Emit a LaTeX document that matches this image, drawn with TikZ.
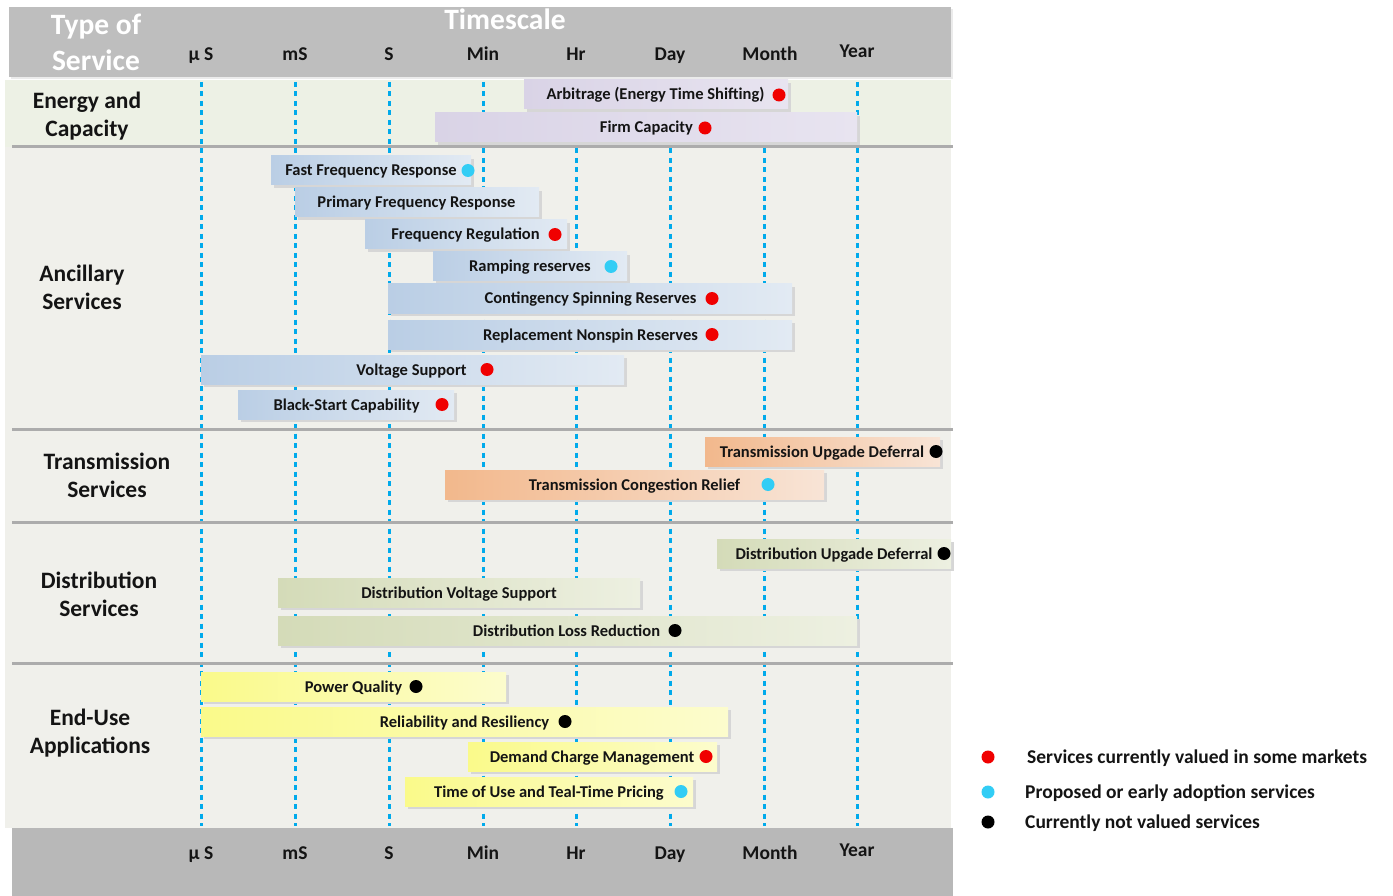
\documentclass[tikz,border=0pt]{standalone}
\usepackage{fontspec}
\setmainfont{Carlito}
\definecolor{hdr}{RGB}{190,190,190}
\definecolor{ftr}{RGB}{184,184,184}
\definecolor{bodybg}{RGB}{240,240,235}
\definecolor{energybg}{RGB}{237,241,229}
\definecolor{sepline}{RGB}{172,172,172}
\definecolor{tick}{RGB}{0,170,235}
\definecolor{txt}{RGB}{20,20,20}
\definecolor{purpleL}{RGB}{217,211,230}
\definecolor{purpleR}{RGB}{232,228,240}
\definecolor{blueL}{RGB}{186,206,229}
\definecolor{blueR}{RGB}{226,234,243}
\definecolor{orangeL}{RGB}{242,184,140}
\definecolor{orangeR}{RGB}{248,228,214}
\definecolor{greenL}{RGB}{212,219,184}
\definecolor{greenR}{RGB}{237,240,225}
\definecolor{yellowL}{RGB}{250,250,138}
\definecolor{yellowR}{RGB}{252,252,205}
\definecolor{dotred}{RGB}{240,0,0}
\definecolor{dotcyan}{RGB}{50,205,245}
\definecolor{dotblack}{RGB}{0,0,0}

% one service bar: name, x1, y1, x2, colour prefix, text x, text
\newcommand\svcbar[7]{%
  \fill[black!16] (#2+3,#3+3) rectangle (#4+3,#3+32);
  \shade[left color=#5L, right color=#5R] (#2,#3) rectangle (#4,#3+29);
  \node[bartext] (#1) at (#6,#3+20) {#7};
}

\begin{document}
\begin{tikzpicture}[x=1pt,y=-1pt,
  bartext/.style={font=\bfseries\fontsize{16.5}{19}\selectfont, text=txt, inner sep=0, anchor=base},
  ticklbl/.style={font=\bfseries\fontsize{19.5}{22}\selectfont, text=txt, inner sep=0, anchor=base},
  rowlbl/.style={font=\bfseries\fontsize{23.5}{28}\selectfont, text=txt, align=center, inner sep=0},
  hdrlbl/.style={font=\bfseries\fontsize{29.5}{36}\selectfont, text=white, align=center, inner sep=0},
  legtext/.style={font=\bfseries\fontsize{19.5}{22}\selectfont, text=txt, anchor=base west, inner sep=0},
  svcdot/.style={circle, fill=#1, minimum size=13, inner sep=0},
  timeline/.style={tick, line width=3, dash pattern=on 5 off 4.5}]

\useasboundingbox (0,0) rectangle (1393,896);
\fill[white] (0,0) rectangle (1393,896);

% chart body
\fill[bodybg] (5,80) rectangle (951,828);
\fill[energybg] (5,80) rectangle (951,147);

% header and footer bands
\fill[black!8] (11,9) rectangle (953,79);
\fill[hdr] (9,7) rectangle (951,77);
\fill[ftr] (12,828) rectangle (953,896);

\node[hdrlbl] (typeofsvc) at (96,42) {Type of\\Service};
\node[hdrlbl] (timescale) at (505,19) {Timescale};

% time scale columns
\foreach \x/\lbl/\nm/\dy in {201/{µ S}/us/0, 295/mS/ms/0, 389/S/s/0, 483/Min/min/0,
                            576/Hr/hr/0, 670/Day/day/0, 770/Month/month/0, 857/Year/year/-3} {
  \node[ticklbl] (top-\nm) at (\x,61+\dy) {\lbl};
  \node[ticklbl] (bot-\nm) at (\x,859+\dy) {\lbl};
}
\foreach \x/\nm in {201/us, 295/ms, 389/s, 483/min, 576/hr, 670/day, 764/month, 857/year} {
  \coordinate (t-\nm) at (\x,82);
  \coordinate (b-\nm) at (\x,826);
  \draw[timeline] (t-\nm) -- (b-\nm);
}

% group separators
\foreach \y in {147,429,522,663}
  \draw[sepline, line width=3] (12,\y) -- (953,\y);

% group labels
\node[rowlbl] (energy) at (87,116) {Energy and\\Capacity};
\node[rowlbl] (ancillary) at (82,287) {Ancillary\\Services};
\node[rowlbl] (transmission) at (107,475) {Transmission\\Services};
\node[rowlbl] (distribution) at (99,594) {Distribution\\Services};
\node[rowlbl] (enduse) at (90,733) {End-Use\\Applications};

% energy and capacity
\svcbar{arb}{524}{80}{788}{purple}{655.5}{Arbitrage (Energy Time Shifting)}
\svcbar{firm}{435}{113}{857}{purple}{646.5}{Firm Capacity}
\node[svcdot=dotred] (arb-d) at (779,95) {};
\node[svcdot=dotred] (firm-d) at (705,128) {};

% ancillary services
\svcbar{ffr}{271}{156}{471}{blue}{371}{Fast Frequency Response}
\svcbar{pfr}{295}{188}{539}{blue}{416.5}{Primary Frequency Response}
\svcbar{freg}{365}{220}{567}{blue}{465.5}{Frequency Regulation}
\svcbar{ramp}{433}{252}{627}{blue}{530}{Ramping reserves}
\svcbar{spin}{388}{284}{792}{blue}{590.5}{Contingency Spinning Reserves}
\svcbar{nonspin}{388}{320}{792}{blue}{590.5}{Replacement Nonspin Reserves}
\svcbar{volt}{201}{355}{624}{blue}{411.5}{Voltage Support}
\svcbar{black}{238}{390}{454}{blue}{346.5}{Black-Start Capability}
\node[svcdot=dotcyan] (ffr-d) at (468,170.5) {};
\node[svcdot=dotred] (freg-d) at (555,234.5) {};
\node[svcdot=dotcyan] (ramp-d) at (611,266.5) {};
\node[svcdot=dotred] (spin-d) at (712,298.5) {};
\node[svcdot=dotred] (nonspin-d) at (712,334.5) {};
\node[svcdot=dotred] (volt-d) at (487,369.5) {};
\node[svcdot=dotred] (black-d) at (442,404.5) {};

% transmission services
\svcbar{tud}{705}{437}{940}{orange}{822}{Transmission Upgade Deferral}
\svcbar{tcr}{445}{470}{824}{orange}{634.5}{Transmission Congestion Relief}
\node[svcdot=dotblack] (tud-d) at (936,451.5) {};
\node[svcdot=dotcyan] (tcr-d) at (768,484.5) {};

% distribution services
\svcbar{dud}{717}{539}{951}{green}{834}{Distribution Upgade Deferral}
\svcbar{dvs}{278}{578}{640}{green}{459}{Distribution Voltage Support}
\svcbar{dlr}{278}{616}{857}{green}{566.5}{Distribution Loss Reduction}
\node[svcdot=dotblack] (dud-d) at (944,553.5) {};
\node[svcdot=dotblack] (dlr-d) at (675,630.5) {};

% end-use applications
\svcbar{pq}{201}{672}{506}{yellow}{353.5}{Power Quality}
\svcbar{rel}{201}{707}{728}{yellow}{464.5}{Reliability and Resiliency}
\svcbar{dcm}{468}{742}{717}{yellow}{592}{Demand Charge Management}
\svcbar{tou}{405}{777}{693}{yellow}{549}{Time of Use and Teal-Time Pricing}
\node[svcdot=dotblack] (pq-d) at (416,686.5) {};
\node[svcdot=dotblack] (rel-d) at (565,721.5) {};
\node[svcdot=dotred] (dcm-d) at (706,756.5) {};
\node[svcdot=dotcyan] (tou-d) at (681,791.5) {};

% legend
\node[svcdot=dotred] (leg-red) at (988,757) {};
\node[svcdot=dotcyan] (leg-cyan) at (988,792) {};
\node[svcdot=dotblack] (leg-black) at (988,822) {};
\node[legtext] (leg-red-t) at (1027,763) {Services currently valued in some markets};
\node[legtext] (leg-cyan-t) at (1025,798) {Proposed or early adoption services};
\node[legtext] (leg-black-t) at (1025,828) {Currently not valued services};

\end{tikzpicture}
\end{document}
